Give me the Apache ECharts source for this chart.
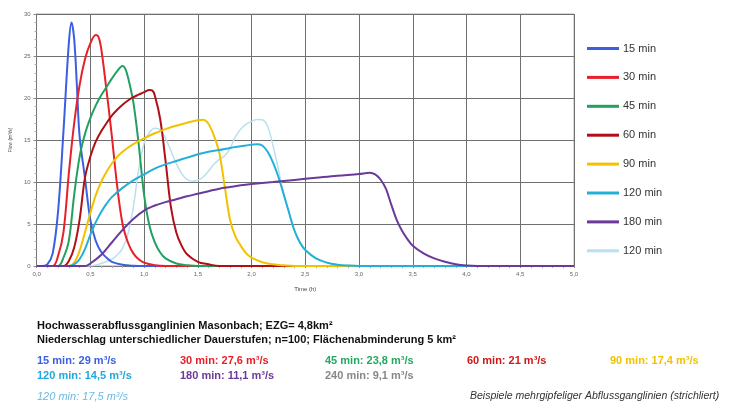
<!DOCTYPE html>
<html><head><meta charset="utf-8">
<script src="https://cdn.jsdelivr.net/npm/echarts@6/dist/echarts.min.js"></script>
<style>html,body{margin:0;padding:0;background:#fff}#c{width:744px;height:403px}</style>
</head><body><div id="c"></div>
<script>
const xTicks = ['0,0','0,5','1,0','1,5','2,0','2,5','3,0','3,5','4,0','4,5','5,0'];
const seriesNames = ['15 min','30 min','45 min','60 min','90 min','120 min','180 min','120 min '];
const q15 = [[0,0],[0.05,0],[0.1,0.2],[0.15,1.5],[0.2,6.5],[0.25,16],[0.3,26.5],[0.325,29],[0.35,27],[0.375,21.5],[0.4,15.5],[0.45,10.5],[0.5,5.5],[0.55,3],[0.6,1.7],[0.65,1],[0.7,0.5],[0.8,0.15],[0.9,0.03],[1.0,0],[5,0]];
const q30 = [[0,0],[0.15,0],[0.2,1.2],[0.25,4],[0.3,11],[0.35,17],[0.4,21.5],[0.45,24.6],[0.5,26.5],[0.55,27.5],[0.575,27.3],[0.6,26],[0.65,21],[0.7,15.5],[0.75,9.5],[0.8,5],[0.85,2.8],[0.9,1.5],[0.95,0.8],[1.0,0.4],[1.1,0.1],[1.2,0],[5,0]];
const q45 = [[0,0],[0.2,0],[0.25,1],[0.3,3],[0.35,8.5],[0.4,13],[0.45,15.7],[0.5,17.6],[0.55,19.1],[0.6,20.3],[0.65,21.3],[0.7,22.3],[0.75,23.2],[0.8,23.8],[0.825,23.5],[0.85,22.5],[0.9,19.5],[0.95,14.5],[1.0,8.5],[1.05,4.8],[1.1,2.8],[1.15,1.6],[1.2,0.9],[1.3,0.3],[1.4,0.1],[1.5,0],[5,0]];
const q60 = [[0,0],[0.25,0],[0.3,0.6],[0.35,2.2],[0.4,5.5],[0.45,10.5],[0.5,13],[0.55,14.8],[0.6,16],[0.65,17],[0.7,17.9],[0.75,18.6],[0.8,19.2],[0.85,19.7],[0.9,20.1],[0.95,20.4],[1.0,20.7],[1.05,20.95],[1.075,20.9],[1.1,20.3],[1.15,17.5],[1.2,12.5],[1.25,7],[1.3,4],[1.35,2.4],[1.4,1.4],[1.5,0.5],[1.6,0.2],[1.7,0],[5,0]];
const q90 = [[0,0],[0.3,0],[0.35,0.4],[0.4,1.8],[0.45,4],[0.5,6.3],[0.55,8.4],[0.6,10],[0.65,11.2],[0.7,12.2],[0.75,13],[0.8,13.6],[0.9,14.5],[1.0,15.2],[1.1,15.8],[1.2,16.3],[1.3,16.7],[1.4,17.05],[1.5,17.35],[1.55,17.4],[1.6,16.9],[1.65,15.5],[1.7,13.5],[1.75,9.5],[1.8,5.5],[1.85,3.5],[1.9,2.4],[1.95,1.5],[2.0,1.0],[2.1,0.45],[2.2,0.2],[2.3,0.08],[2.4,0],[5,0]];
const q120 = [[0,0],[0.3,0],[0.35,0.2],[0.4,0.8],[0.45,2],[0.5,3.7],[0.55,5.2],[0.6,6.4],[0.65,7.4],[0.7,8.2],[0.8,9.3],[0.9,10.2],[1.0,10.9],[1.1,11.6],[1.2,12.1],[1.3,12.5],[1.4,12.9],[1.5,13.3],[1.6,13.6],[1.7,13.8],[1.8,14.05],[1.9,14.25],[2.0,14.45],[2.05,14.5],[2.1,14.35],[2.15,13.6],[2.2,12.3],[2.25,10.6],[2.3,8.5],[2.35,6.3],[2.4,4.2],[2.45,2.8],[2.5,1.9],[2.6,0.9],[2.7,0.4],[2.8,0.15],[2.9,0.05],[3.0,0],[5,0]];
const q180 = [[0,0],[0.45,0],[0.5,0.3],[0.6,1.3],[0.7,2.8],[0.8,4.3],[0.9,5.6],[1.0,6.6],[1.1,7.2],[1.2,7.6],[1.3,7.95],[1.4,8.3],[1.5,8.6],[1.6,8.9],[1.7,9.2],[1.8,9.4],[1.9,9.6],[2.0,9.75],[2.2,10.0],[2.4,10.25],[2.6,10.5],[2.8,10.75],[3.0,10.95],[3.1,11.1],[3.15,10.9],[3.2,10.3],[3.25,9.2],[3.3,7.3],[3.35,5.5],[3.4,4.2],[3.45,3.2],[3.5,2.4],[3.6,1.5],[3.7,0.9],[3.8,0.5],[3.9,0.2],[4.0,0.05],[4.1,0],[5,0]];
const q120b = [[0,0],[0.5,0],[0.6,0.3],[0.7,0.8],[0.75,1.3],[0.8,2.1],[0.85,3.8],[0.9,7],[0.95,11.5],[1.0,14.6],[1.05,15.9],[1.1,16.4],[1.15,16.2],[1.2,15.2],[1.25,13.7],[1.3,12.2],[1.35,11],[1.4,10.3],[1.45,10.1],[1.5,10.2],[1.55,10.6],[1.6,11.3],[1.65,12.1],[1.7,12.7],[1.75,13.1],[1.8,14],[1.85,15.4],[1.9,16.3],[1.95,16.9],[2.0,17.2],[2.05,17.45],[2.1,17.4],[2.15,16.6],[2.2,14.3],[2.25,11.5],[2.3,8.5],[2.35,6.3],[2.4,4.2],[2.45,2.8],[2.5,1.9],[2.6,0.9],[2.7,0.4],[2.8,0.15],[2.9,0.05],[3.0,0],[5,0]];
const peakLines = [
  ['15 min: 29 m³/s','#3a5fe0'],['30 min: 27,6 m³/s','#e8202a'],['45 min: 23,8 m³/s','#22a860'],['60 min: 21 m³/s','#d01818'],['90 min: 17,4 m³/s','#f2c200'],
  ['120 min: 14,5 m³/s','#22a8dc'],['180 min: 11,1 m³/s','#6a3a9a'],['240 min: 9,1 m³/s','#888888']
];
const titleLines = ['Hochwasserabflussganglinien Masonbach; EZG= 4,8km²','Niederschlag unterschiedlicher Dauerstufen; n=100; Flächenabminderung 5 km²'];
const noteA = '120 min: 17,5 m³/s';
const noteB = 'Beispiele mehrgipfeliger Abflussganglinien (strichliert)';

const colors = ['#3a5fe0','#e8202a','#22a060','#b01015','#f2c200','#22b0d8','#6a3a9a','#b8e0f0'];
const datas = [q15,q30,q45,q60,q90,q120,q180,q120b];

const chart = echarts.init(document.getElementById('c'));
const series = datas.map((d,i)=>({
  name: seriesNames[i], type:'line', data:d, symbol:'none', smooth:0.35,
  z: i===7 ? 1 : 2,
  lineStyle:{color:colors[i], width: i===7 ? 1.5 : 2}, itemStyle:{color:colors[i]}
}));
const colX = [37,180,325,467,610];
const graphics = [];
titleLines.forEach((t,i)=>graphics.push({type:'text',left:37,top:320+i*14,style:{text:t,font:'bold 11px "Liberation Sans", Arial, sans-serif',fill:'#111'}}));
peakLines.forEach((p,i)=>graphics.push({type:'text',left:colX[i%5],top:355+Math.floor(i/5)*15,style:{text:p[0],font:'bold 11px "Liberation Sans", Arial, sans-serif',fill:p[1]}}));
graphics.push({type:'text',left:37,top:391,style:{text:noteA,font:'italic 11px "Liberation Sans", Arial, sans-serif',fill:'#6ab8e4'}});
graphics.push({type:'text',left:470,top:391,style:{text:noteB,font:'italic 10.5px "Liberation Sans", Arial, sans-serif',fill:'#333'}});

chart.setOption({
  animation:false,
  backgroundColor:'#fff',
  grid:{left:35,right:170,top:14,bottom:137,show:true,borderColor:'#aaa',borderWidth:1},
  legend:{orient:'vertical',left:582,top:38,itemWidth:32,itemHeight:3,itemGap:17.9,icon:'rect',
    data:seriesNames, textStyle:{fontSize:11,color:'#333',fontFamily:'Arial, sans-serif',padding:[0,0,0,-1]}},
  xAxis:{type:'value',min:0,max:5,interval:0.5,name:'Time (h)',nameLocation:'middle',nameGap:20,
    nameTextStyle:{fontSize:6,color:'#444'},
    axisLine:{lineStyle:{color:'#777'}},axisTick:{show:true,length:2,lineStyle:{color:'#888'}},
    minorTick:{show:true,splitNumber:5,length:2,lineStyle:{color:'#aaa'}},
    axisLabel:{fontSize:6,color:'#666',margin:5,formatter:(v)=>xTicks[Math.round(v*2)]},
    splitLine:{show:true,lineStyle:{color:'#707070',width:1}}},
  yAxis:{type:'value',min:0,max:30,interval:5,name:'Flow (m³/s)',nameLocation:'middle',nameGap:20,
    nameTextStyle:{fontSize:5,color:'#444'},
    axisLine:{show:true,lineStyle:{color:'#777'}},axisTick:{show:true,length:3,lineStyle:{color:'#888'}},
    minorTick:{show:true,splitNumber:5,length:2,lineStyle:{color:'#aaa'}},
    axisLabel:{fontSize:6,color:'#666',margin:6},
    splitLine:{show:true,lineStyle:{color:'#707070',width:1}}},
  series: series,
  graphic: graphics
});
</script></body></html>
